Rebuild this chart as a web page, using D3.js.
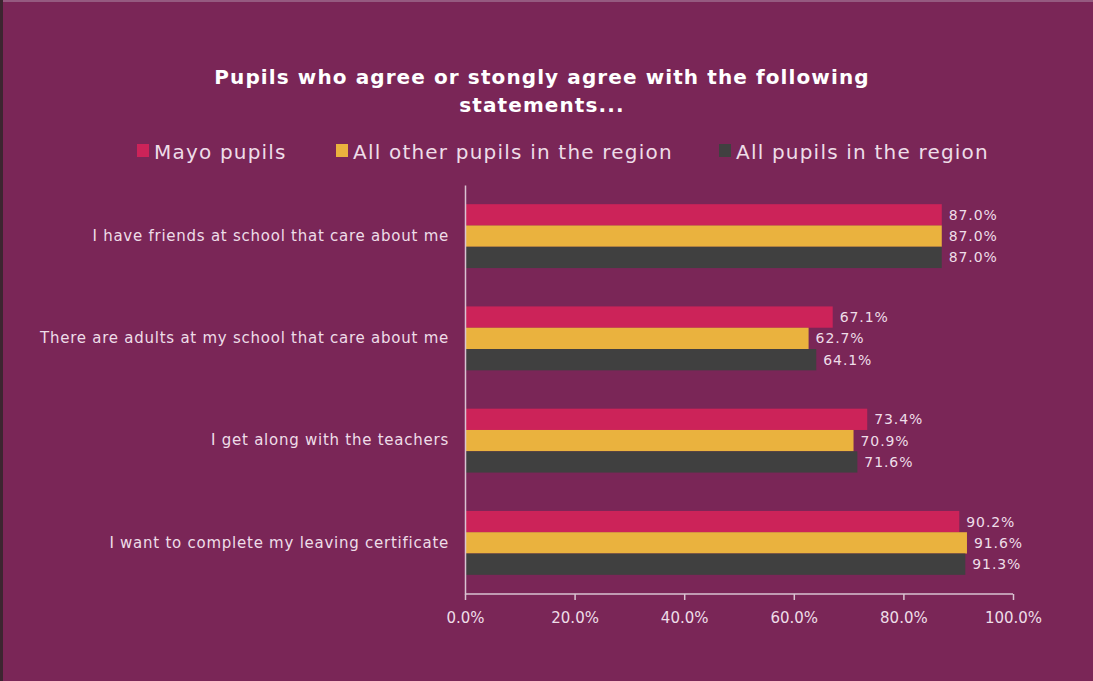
<!DOCTYPE html>
<html><head><meta charset="utf-8">
<script src="https://cdn.jsdelivr.net/npm/d3@7"></script>
<style>
html,body{margin:0;padding:0;background:#7A2657;}
svg{display:block;}
text{font-family:"DejaVu Sans",sans-serif;}
</style></head>
<body>
<svg id="c" width="1093" height="681"></svg>
<script>
const categories = [
  "I have friends at school that care about me",
  "There are adults at my school that care about me",
  "I get along with the teachers",
  "I want to complete my leaving certificate"
];
const seriesNames = ["Mayo pupils", "All other pupils in the region", "All pupils in the region"];
const mayo = [87.0, 67.1, 73.4, 90.2];
const otherPupils = [87.0, 62.7, 70.9, 91.6];
const allPupils = [87.0, 64.1, 71.6, 91.3];
const xTicks = [0, 20, 40, 60, 80, 100];
const colors = ["#CC2359", "#EAB23E", "#404040"];

const series = [mayo, otherPupils, allPupils];
const svg = d3.select("#c");
const txt = "#EEDDE8";

svg.append("rect").attr("x",0).attr("y",0).attr("width",1093).attr("height",681).attr("fill","#7A2657");
svg.append("rect").attr("x",0).attr("y",0).attr("width",1093).attr("height",2).attr("fill","#955A80");
svg.append("rect").attr("x",0).attr("y",0).attr("width",3).attr("height",681).attr("fill","#3C2530");

const x = d3.scaleLinear().domain([0,100]).range([465,1013]);
const y0 = d3.scaleBand().domain(categories).range([185,594]).paddingInner(0.375).paddingOuter(0.1875);
const y1 = d3.scaleBand().domain([0,1,2]).range([0,y0.bandwidth()]);

// title
const title = svg.append("text").attr("text-anchor","middle").attr("fill","#FFFFFF")
  .style("font-weight","bold").style("font-size","20px").style("letter-spacing","1.1px");
title.append("tspan").attr("x",542).attr("y",84).text("Pupils who agree or stongly agree with the following");
title.append("tspan").attr("x",542).attr("y",112).text("statements...");

// legend
const legX = [137, 336, 719];
seriesNames.forEach((n,i)=>{
  svg.append("rect").attr("x",legX[i]).attr("y",144).attr("width",12).attr("height",13).attr("fill",colors[i]);
  svg.append("text").attr("x",legX[i]+17).attr("y",159).attr("fill",txt).style("font-size","20px")
    .style("letter-spacing","1.2px").text(n);
});

// bars
const g = svg.append("g");
categories.forEach((c,ci)=>{
  series.forEach((s,si)=>{
    g.append("rect").attr("x",x(0)).attr("y",y0(c)+y1(si)).attr("width",x(s[ci])-x(0))
      .attr("height",y1.bandwidth()).attr("fill",colors[si]);
    g.append("text").attr("x",x(s[ci])+7).attr("y",y0(c)+y1(si)+y1.bandwidth()/2+5)
      .attr("fill",txt).style("font-size","14px").style("letter-spacing","0.9px").text(s[ci].toFixed(1)+"%");
  });
});

// y axis
const ya = svg.append("g").attr("transform",`translate(${x(0)},0)`)
  .call(d3.axisLeft(y0).tickSize(0).tickPadding(16));
ya.select(".domain").attr("stroke","#D9C3D1").attr("stroke-width",1.5);
ya.selectAll("text").attr("fill",txt).style("font-size","15px").style("letter-spacing","0.75px");

// x axis
const xa = svg.append("g").attr("transform","translate(0,594)")
  .call(d3.axisBottom(x).tickValues(xTicks).tickSize(6).tickSizeOuter(6).tickPadding(12).tickFormat(d=>d.toFixed(1)+"%"));
xa.select(".domain").attr("stroke","#D9C3D1").attr("stroke-width",1.5).attr("d","M465,0V0H1013V0");
xa.selectAll(".tick line").attr("stroke","#D9C3D1").attr("stroke-width",1.5);
xa.selectAll("text").attr("fill",txt).style("font-size","15px");
</script>
</body></html>
